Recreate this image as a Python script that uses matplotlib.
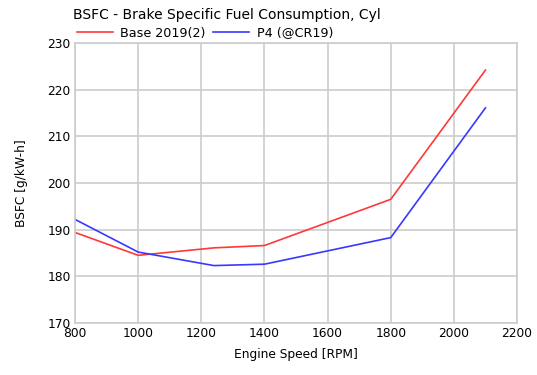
import matplotlib
matplotlib.use("Agg")
import matplotlib.pyplot as plt

plt.rcParams["font.family"] = ["DejaVu Sans"]

speed = [800, 1000, 1240, 1400, 1800, 2100]
base_2019 = [189.4, 184.5, 186.1, 186.6, 196.5, 224.2]
p4_cr19 = [192.2, 185.2, 182.3, 182.6, 188.3, 216.1]

fig = plt.figure(figsize=(5.37, 3.75), dpi=100)
ax = fig.add_axes([0.1397, 0.1387, 0.8231, 0.7466])

ax.plot(speed, base_2019, color="#ff3838", lw=1.2, label="Base 2019(2)")
ax.plot(speed, p4_cr19, color="#3838ff", lw=1.2, label="P4 (@CR19)")

ax.set_xlim(800, 2200)
ax.set_ylim(170, 230)
ax.set_xticks(range(800, 2201, 200))
ax.set_yticks(range(170, 231, 10))
ax.grid(True, color="#cccccc", lw=1.2)
ax.set_axisbelow(True)
for s in ax.spines.values():
    s.set_color("#cccccc")
    s.set_linewidth(1.2)
ax.tick_params(length=0, labelsize=8.8, pad=3)

ax.set_xlabel("Engine Speed [RPM]", fontsize=8.8, labelpad=6)
ax.set_ylabel("BSFC [g/kW-h]", fontsize=8.8, labelpad=14)

fig.text(0.136, 0.96, "BSFC - Brake Specific Fuel Consumption, Cyl",
         fontsize=10, va="center", ha="left")
fig.legend(loc="center left", bbox_to_anchor=(0.143, 0.912), ncol=2,
           frameon=False, fontsize=9.2, handlelength=2.8, handletextpad=0.6,
           columnspacing=0.6, borderpad=0, borderaxespad=0)

fig.savefig("out.png", dpi=100)
